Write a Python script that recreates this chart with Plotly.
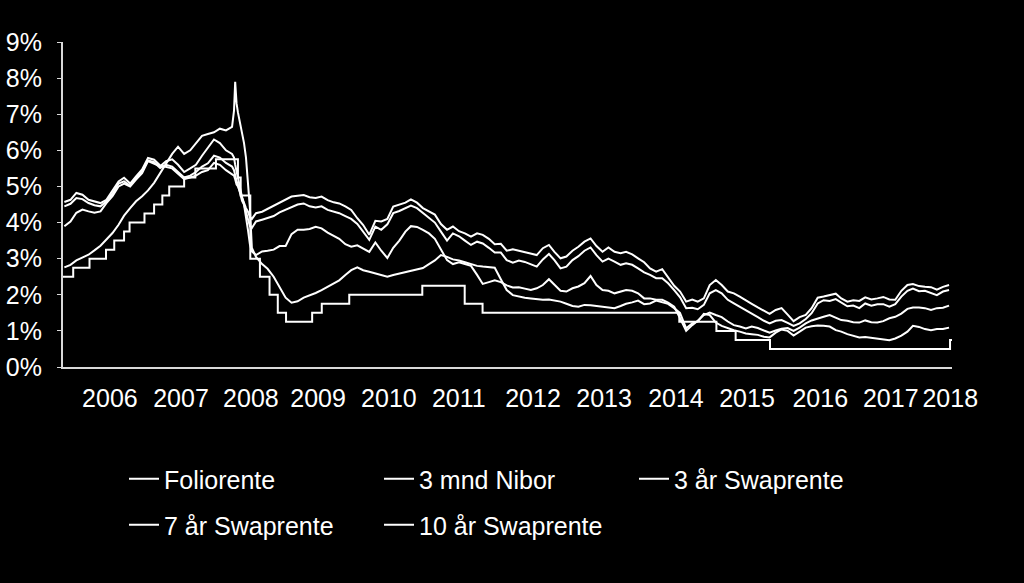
import pandas as pd
import plotly.graph_objects as go

# ---------------- data ----------------
# monthly observations, mid-month, May 2006 .. Sep 2018 (149 months)
month_start = "2006-05-01"
n_months = 149

nibor_3m = [
    2.76, 2.83, 2.95, 3.02, 3.11, 3.23, 3.36, 3.53, 3.71, 3.94, 4.19, 4.40, 4.59, 4.73, 4.89, 5.10, 5.37,
    5.60, 5.90, 6.10, 5.90, 6.00, 6.20, 6.40, 6.45, 6.50, 6.60, 6.55, 6.65,
    7.05, 6.20, 4.40,
    3.05, 2.85, 2.72, 2.50, 2.20, 1.92, 1.78, 1.82, 1.92, 1.98, 2.05, 2.13, 2.22, 2.32, 2.40, 2.55, 2.68,
    2.76, 2.68, 2.64, 2.59, 2.55, 2.50, 2.55, 2.59, 2.64, 2.67, 2.70, 2.74, 2.85, 2.95, 3.10, 3.05, 2.98,
    2.95, 2.90, 2.85, 2.80, 2.78, 2.76, 2.75,
    2.43, 2.13, 1.99, 1.95, 1.92, 1.90, 1.88, 1.86, 1.87, 1.84, 1.81, 1.75, 1.69, 1.67, 1.72, 1.71, 1.69,
    1.67, 1.64, 1.63, 1.69, 1.75, 1.79, 1.84, 1.74,
    1.76, 1.84, 1.80, 1.75, 1.63, 1.49, 1.07, 1.21, 1.26, 1.47, 1.44, 1.23, 1.14, 1.07, 1.02, 0.98, 0.93,
    0.91, 0.89, 0.84, 0.82, 0.95, 1.04, 1.00,
    0.87, 0.98, 1.09, 1.13, 1.15, 1.14, 1.12, 1.02, 0.98, 0.91, 0.86, 0.82, 0.83, 0.81, 0.78, 0.78, 0.74,
    0.79, 0.87, 0.98, 1.14, 1.11, 1.05, 1.02, 1.05, 1.05, 1.09,
]

swap_3y = [
    3.90, 4.03, 4.27, 4.36, 4.31, 4.27, 4.31, 4.54, 4.73, 5.00, 5.08, 5.00, 5.19, 5.37, 5.70, 5.63, 5.56,
    5.70, 5.75, 5.60, 5.40, 5.50, 5.60, 5.85, 6.06, 6.30, 6.20, 6.00, 5.90,
    5.30, 4.50, 3.40,
    3.10, 3.20, 3.22, 3.25, 3.35, 3.35, 3.68, 3.80, 3.80, 3.82, 3.88, 3.84, 3.72, 3.62, 3.55, 3.40, 3.33,
    3.37, 3.28, 3.19, 3.45, 3.22, 3.02, 3.30, 3.50, 3.75, 3.90, 3.88, 3.80, 3.70, 3.55, 3.25, 2.96, 2.85,
    2.90, 2.85, 2.80, 2.55, 2.30, 2.35, 2.40,
    2.35, 2.26, 2.20, 2.21, 2.17, 2.13, 2.18, 2.27, 2.43, 2.27, 2.11, 2.09, 2.18, 2.23, 2.32, 2.52, 2.27,
    2.13, 2.11, 2.04, 2.08, 2.13, 2.11, 2.04, 1.90,
    1.90, 1.86, 1.86, 1.78, 1.67, 1.35, 1.00, 1.16, 1.28, 1.44, 1.51, 1.44, 1.38, 1.26, 1.16, 1.12, 1.07,
    1.12, 1.08, 1.01, 0.95, 1.01, 1.06, 1.08,
    1.00, 1.09, 1.21, 1.29, 1.35, 1.39, 1.44, 1.37, 1.30, 1.28, 1.24, 1.23, 1.29, 1.24, 1.23, 1.27, 1.35,
    1.39, 1.48, 1.61, 1.65, 1.65, 1.63, 1.58, 1.63, 1.64, 1.70,
]

swap_7y = [
    4.45, 4.52, 4.68, 4.65, 4.54, 4.48, 4.45, 4.59, 4.80, 5.08, 5.14, 5.02, 5.24, 5.42, 5.72, 5.67, 5.51,
    5.60, 5.55, 5.40, 5.25, 5.30, 5.40, 5.55, 5.64, 5.85, 5.80, 5.65, 5.55,
    5.05, 4.50, 3.90,
    4.03, 4.08, 4.12, 4.18, 4.28, 4.35, 4.44, 4.50, 4.53, 4.45, 4.42, 4.45, 4.35, 4.30, 4.26, 4.18, 4.10,
    3.96, 3.75, 3.52, 3.89, 3.80, 3.95, 4.26, 4.32, 4.40, 4.47, 4.40, 4.26, 4.12, 4.00, 3.75, 3.50, 3.70,
    3.62, 3.50, 3.38, 3.47, 3.42, 3.30, 3.17,
    3.17, 2.96, 2.89, 2.95, 2.91, 2.85, 2.78, 2.98, 3.13, 2.96, 2.73, 2.78, 2.96, 3.07, 3.22, 3.31, 3.10,
    2.92, 3.00, 2.92, 2.83, 2.87, 2.83, 2.73, 2.62,
    2.55, 2.46, 2.46, 2.32, 2.13, 1.93, 1.63, 1.64, 1.60, 1.72, 2.04, 2.13, 2.04, 1.86, 1.76, 1.67, 1.58,
    1.49, 1.38, 1.28, 1.21, 1.28, 1.30, 1.22,
    1.14, 1.21, 1.33, 1.49, 1.76, 1.85, 1.83, 1.88, 1.79, 1.68, 1.70, 1.63, 1.76, 1.70, 1.74, 1.74, 1.67,
    1.74, 1.95, 2.11, 2.17, 2.10, 2.11, 2.05, 1.99, 2.09, 2.13,
]

swap_10y = [
    4.57, 4.63, 4.82, 4.77, 4.63, 4.59, 4.54, 4.63, 4.87, 5.14, 5.24, 5.08, 5.28, 5.47, 5.79, 5.74, 5.58,
    5.55, 5.50, 5.35, 5.20, 5.25, 5.30, 5.40, 5.45, 5.65, 5.60, 5.45, 5.35,
    5.00, 4.55, 4.15,
    4.26, 4.30, 4.38, 4.45, 4.55, 4.62, 4.72, 4.74, 4.76, 4.70, 4.68, 4.72, 4.62, 4.56, 4.53, 4.45, 4.35,
    4.12, 3.93, 3.66, 4.05, 4.03, 4.10, 4.44, 4.50, 4.55, 4.64, 4.55, 4.40, 4.32, 4.22, 3.96, 3.80, 3.89,
    3.76, 3.70, 3.61, 3.70, 3.66, 3.55, 3.40,
    3.41, 3.22, 3.26, 3.22, 3.19, 3.13, 3.10, 3.29, 3.38, 3.19, 3.01, 3.06, 3.22, 3.33, 3.47, 3.56, 3.35,
    3.19, 3.31, 3.19, 3.15, 3.19, 3.12, 3.01, 2.90,
    2.73, 2.64, 2.71, 2.50, 2.25, 2.09, 1.81, 1.87, 1.81, 1.90, 2.27, 2.41, 2.27, 2.09, 2.04, 1.95, 1.86,
    1.75, 1.65, 1.56, 1.47, 1.58, 1.63, 1.45,
    1.27, 1.38, 1.44, 1.63, 1.92, 1.95, 1.98, 2.03, 1.90, 1.81, 1.85, 1.83, 1.93, 1.87, 1.90, 1.94, 1.87,
    1.86, 2.11, 2.27, 2.30, 2.24, 2.22, 2.21, 2.14, 2.22, 2.27,
]

# extra readings around the autumn 2008 spike
crash_dates = ["2008-09-25", "2008-10-01", "2008-10-08", "2008-10-25",
               "2008-11-05", "2008-11-25", "2008-12-05", "2008-12-25"]
nibor_crash = [7.10, 7.90, 7.30, 6.80, 6.50, 5.80, 5.20, 3.30]
swap3_crash = [5.80, 5.60, 5.40, 5.00, 4.70, 4.20, 3.80, 3.20]
swap7_crash = [5.45, 5.30, 5.15, 4.85, 4.60, 4.30, 4.10, 3.85]
swap10_crash = [5.30, 5.20, 5.05, 4.85, 4.65, 4.40, 4.30, 4.10]

# key policy rate (foliorente): change dates and levels
folio_dates = ["2006-05-08", "2006-06-29", "2006-09-20", "2006-12-13", "2007-01-24", "2007-03-15",
               "2007-04-12", "2007-06-27", "2007-08-15", "2007-09-26", "2007-10-31", "2008-01-15",
               "2008-03-12", "2008-06-25", "2008-10-15", "2008-10-29", "2008-12-17", "2009-02-04",
               "2009-03-25", "2009-05-06", "2009-06-17", "2009-10-28", "2009-12-16", "2010-05-05",
               "2011-05-12", "2011-12-14", "2012-03-14", "2014-12-11", "2015-06-18", "2015-09-24",
               "2016-03-17", "2018-09-20", "2018-09-30"]
folio_levels = [2.50, 2.75, 3.00, 3.25, 3.50, 3.75,
                4.00, 4.25, 4.50, 4.75, 5.00, 5.25,
                5.50, 5.75, 5.25, 4.75, 3.00, 2.50,
                2.00, 1.50, 1.25, 1.50, 1.75, 2.00,
                2.25, 1.75, 1.50, 1.25, 1.00, 0.75,
                0.50, 0.75, 0.75]

y_ticks = [0, 1, 2, 3, 4, 5, 6, 7, 8, 9]
y_labels = ["0%", "1%", "2%", "3%", "4%", "5%", "6%", "7%", "8%", "9%"]
tick_labels = ["2006", "2007", "2008", "2009", "2010", "2011", "2012",
               "2013", "2014", "2015", "2016", "2017", "2018"]
tick_dates = ["2007-01-02", "2007-12-30", "2008-12-20", "2009-11-27", "2010-11-23", "2011-11-14",
              "2012-11-26", "2013-11-23", "2014-11-24", "2015-11-21", "2016-11-28", "2017-11-22",
              "2018-09-21"]
x_range = ["2006-05-08", "2018-09-30"]

# ---------------- build ----------------
month_dates = pd.date_range(month_start, periods=n_months, freq="MS") + pd.Timedelta(days=14)
crash_idx = pd.to_datetime(crash_dates)


def build(monthly, crash):
    assert len(monthly) == n_months, len(monthly)
    s = pd.concat([pd.Series(monthly, index=month_dates),
                   pd.Series(crash, index=crash_idx)]).sort_index()
    return s


FONT = "Liberation Sans, Arial, sans-serif"
LINE = dict(color="#ffffff", width=2)

fig = go.Figure()
fig.add_trace(go.Scatter(x=pd.to_datetime(folio_dates), y=folio_levels, mode="lines",
                         line=dict(LINE, shape="hv"), name="Foliorente", legend="legend"))
s = build(nibor_3m, nibor_crash)
fig.add_trace(go.Scatter(x=s.index, y=s.values, mode="lines", line=LINE,
                         name="3 mnd Nibor", legend="legend"))
s = build(swap_3y, swap3_crash)
fig.add_trace(go.Scatter(x=s.index, y=s.values, mode="lines", line=LINE,
                         name="3 år Swaprente", legend="legend"))
s = build(swap_7y, swap7_crash)
fig.add_trace(go.Scatter(x=s.index, y=s.values, mode="lines", line=LINE,
                         name="7 år Swaprente", legend="legend2"))
s = build(swap_10y, swap10_crash)
fig.add_trace(go.Scatter(x=s.index, y=s.values, mode="lines", line=LINE,
                         name="10 år Swaprente", legend="legend2"))

PLOT_L, PLOT_R, PLOT_T, PLOT_B = 63, 952, 42, 367
W, H = 1024, 583


def px_x(p):
    return (p - PLOT_L) / (PLOT_R - PLOT_L)


def px_y(p):
    return (PLOT_B - p) / (PLOT_B - PLOT_T)


legend_common = dict(orientation="h", xanchor="left", yanchor="middle",
                     entrywidth=210, entrywidthmode="pixels",
                     font=dict(family=FONT, size=25, color="#ffffff"),
                     bgcolor="rgba(0,0,0,0)", borderwidth=0, itemwidth=30,
                     traceorder="normal")

fig.update_layout(
    width=W, height=H,
    margin=dict(l=PLOT_L, r=W - PLOT_R, t=PLOT_T, b=H - PLOT_B, pad=0, autoexpand=False),
    paper_bgcolor="#000000", plot_bgcolor="#000000",
    font=dict(family=FONT, size=25, color="#ffffff"),
    showlegend=True,
    xaxis=dict(type="date", range=x_range, tickmode="array", tickvals=tick_dates,
               ticktext=tick_labels, showgrid=False, zeroline=False, showline=True,
               linecolor="#d9d9d9", linewidth=2, ticks="", tickangle=0, automargin=False,
               ticklabelstandoff=8, tickfont=dict(family=FONT, size=25, color="#ffffff")),
    yaxis=dict(range=[0, 9], tickmode="array", tickvals=y_ticks, ticktext=y_labels,
               showgrid=False, zeroline=False, showline=True, linecolor="#d9d9d9",
               linewidth=2, ticks="outside", ticklen=4, tickcolor="#d9d9d9", tickwidth=1,
               automargin=False, ticklabelstandoff=10,
               tickfont=dict(family=FONT, size=25, color="#ffffff")),
    legend=dict(legend_common, x=px_x(124), y=px_y(479)),
    legend2=dict(legend_common, x=px_x(124), y=px_y(525)),
)

fig.write_html("out.html")
